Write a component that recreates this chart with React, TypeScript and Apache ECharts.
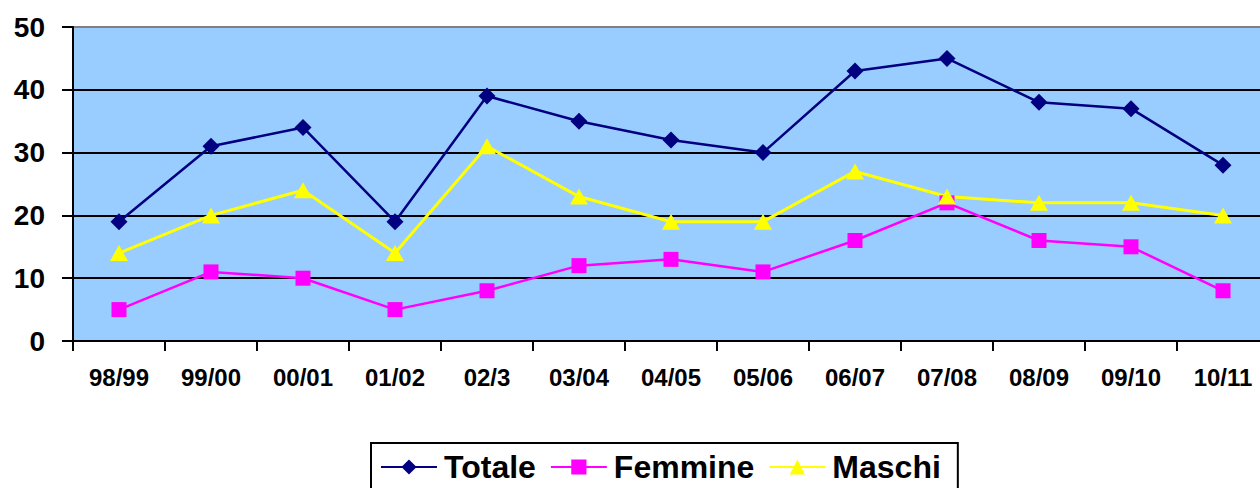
import React, { useEffect, useRef } from "react";
import * as echarts from "echarts";

const categories = ["98/99", "99/00", "00/01", "01/02", "02/3", "03/04", "04/05", "05/06", "06/07", "07/08", "08/09", "09/10", "10/11"];
const totale = [19, 31, 34, 19, 39, 35, 32, 30, 43, 45, 38, 37, 28];
const femmine = [5, 11, 10, 5, 8, 12, 13, 11, 16, 22, 16, 15, 8];
const maschi = [14, 20, 24, 14, 31, 23, 19, 19, 27, 23, 22, 22, 20];

const FONT = "'Liberation Sans', Arial, sans-serif";

export default function App() {
  const ref = useRef<HTMLDivElement>(null);
  useEffect(() => {
    if (!ref.current) return;
    const chart = echarts.init(ref.current, undefined, { renderer: "svg" });
    chart.setOption({
      animation: false,
      backgroundColor: "#ffffff",
      textStyle: { fontFamily: FONT },
      grid: {
        left: 73,
        top: 27,
        right: -9,
        bottom: 147,
        outerBoundsMode: "none",
        containLabel: false,
        show: true,
        backgroundColor: "#99CCFF",
        borderColor: "#808080",
        borderWidth: 0,
      },
      legend: {
        left: 371,
        top: 443,
        padding: [8, 17, 8, 9],
        borderColor: "#000000",
        borderWidth: 2,
        itemWidth: 56,
        itemHeight: 19,
        itemGap: 14,
        textStyle: { fontFamily: FONT, fontSize: 32, fontWeight: "bold", color: "#000", padding: [0, 0, 0, 2] },
        data: ["Totale", "Femmine", "Maschi"],
      },
      xAxis: {
        type: "category",
        data: categories,
        boundaryGap: true,
        axisLine: { show: true, lineStyle: { color: "#000", width: 2 } },
        axisTick: { show: true, length: 10, lineStyle: { color: "#000", width: 2 }, alignWithLabel: false },
        axisLabel: { color: "#000", fontFamily: FONT, fontSize: 24, fontWeight: "bold", margin: 24, interval: 0 },
        splitLine: { show: false },
      },
      yAxis: {
        type: "value",
        min: 0,
        max: 50,
        interval: 10,
        axisLine: { show: true, lineStyle: { color: "#000", width: 2 } },
        axisTick: { show: true, length: 11, lineStyle: { color: "#000", width: 2 } },
        axisLabel: { color: "#000", fontFamily: FONT, fontSize: 28, fontWeight: "bold", margin: 28 },
        splitLine: { show: true, lineStyle: { color: ["#000", "#000", "#000", "#000", "#000", "#808080"], width: 2 } },
      },
      series: [
        {
          name: "Totale",
          type: "line",
          data: totale,
          symbol: "diamond",
          symbolSize: 17,
          lineStyle: { color: "#000080", width: 2.5 },
          itemStyle: { color: "#000080" },
        },
        {
          name: "Femmine",
          type: "line",
          data: femmine,
          symbol: "rect",
          symbolSize: 15,
          lineStyle: { color: "#FF00FF", width: 2.5 },
          itemStyle: { color: "#FF00FF" },
        },
        {
          name: "Maschi",
          type: "line",
          data: maschi,
          symbol: "triangle",
          symbolSize: [18, 16],
          lineStyle: { color: "#FFFF00", width: 3 },
          itemStyle: { color: "#FFFF00" },
        },
      ],
    });
    return () => chart.dispose();
  }, []);
  return <div ref={ref} style={{ width: 1260, height: 488, position: "absolute", left: 0, top: 0 }} />;
}
